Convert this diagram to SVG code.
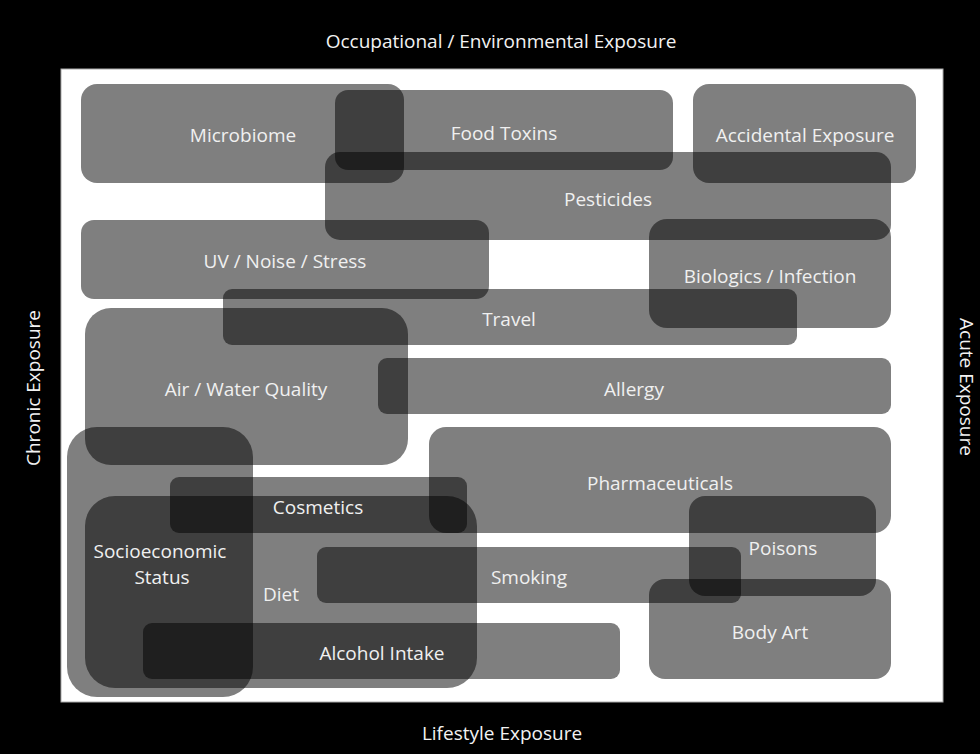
<svg xmlns="http://www.w3.org/2000/svg" width="980" height="754" viewBox="0 0 980 754">
<style>
.b{fill:#000;fill-opacity:0.5}
.t{font-family:"Open Sans","Liberation Sans",sans-serif;font-size:19px;fill:#f0f0f0;text-anchor:middle}
.h{font-family:"Open Sans","Liberation Sans",sans-serif;font-size:19px;fill:#f2f2f2;text-anchor:middle}
</style>
<rect x="0" y="0" width="980" height="754" fill="#000"/>
<rect x="61" y="69" width="882" height="633" fill="#fff" stroke="#aaa" stroke-width="1"/>
<g id="axes">
<text class="h" x="501" y="48">Occupational / Environmental Exposure</text>
<text class="h" x="502" y="740">Lifestyle Exposure</text>
<text class="h" transform="translate(40,388) rotate(-90)">Chronic Exposure</text>
<text class="h" transform="translate(960,387) rotate(90)">Acute Exposure</text>
</g>
<g id="connectors"></g>
<g id="microbiome"><rect class="b" x="81" y="84" width="323" height="99" rx="16"/><text class="t" x="243" y="142">Microbiome</text></g>
<g id="food-toxins"><rect class="b" x="335" y="90" width="338" height="80" rx="13"/><text class="t" x="504" y="140">Food Toxins</text></g>
<g id="accidental-exposure"><rect class="b" x="693" y="84" width="223" height="99" rx="16"/><text class="t" x="805" y="142">Accidental Exposure</text></g>
<g id="pesticides"><rect class="b" x="325" y="152" width="566" height="88" rx="15"/><text class="t" x="608" y="206">Pesticides</text></g>
<g id="uv-noise-stress"><rect class="b" x="81" y="220" width="408" height="79" rx="13"/><text class="t" x="285" y="268">UV / Noise / Stress</text></g>
<g id="biologics-infection"><rect class="b" x="649" y="219" width="242" height="109" rx="18"/><text class="t" x="770" y="283">Biologics / Infection</text></g>
<g id="travel"><rect class="b" x="223" y="289" width="574" height="56" rx="9"/><text class="t" x="509" y="326">Travel</text></g>
<g id="air-water-quality"><rect class="b" x="85" y="308" width="323" height="157" rx="26"/><text class="t" x="246" y="396">Air / Water Quality</text></g>
<g id="allergy"><rect class="b" x="378" y="358" width="513" height="56" rx="9"/><text class="t" x="634" y="396">Allergy</text></g>
<g id="pharmaceuticals"><rect class="b" x="429" y="427" width="462" height="106" rx="17"/><text class="t" x="660" y="490">Pharmaceuticals</text></g>
<g id="diet"><rect class="b" x="85" y="496" width="392" height="192" rx="30"/><text class="t" x="281" y="601">Diet</text></g>
<g id="socioeconomic-status"><rect class="b" x="67" y="427" width="186" height="270" rx="30"/><text class="t" x="160" y="558">Socioeconomic</text><text class="t" x="162" y="584">Status</text></g>
<g id="cosmetics"><rect class="b" x="170" y="477" width="297" height="56" rx="9"/><text class="t" x="318" y="514">Cosmetics</text></g>
<g id="smoking"><rect class="b" x="317" y="547" width="424" height="56" rx="9"/><text class="t" x="529" y="584">Smoking</text></g>
<g id="alcohol-intake"><rect class="b" x="143" y="623" width="477" height="56" rx="9"/><text class="t" x="382" y="660">Alcohol Intake</text></g>
<g id="poisons"><rect class="b" x="689" y="496" width="187" height="100" rx="16"/><text class="t" x="783" y="555">Poisons</text></g>
<g id="body-art"><rect class="b" x="649" y="579" width="242" height="100" rx="16"/><text class="t" x="770" y="639">Body Art</text></g>
</svg>
